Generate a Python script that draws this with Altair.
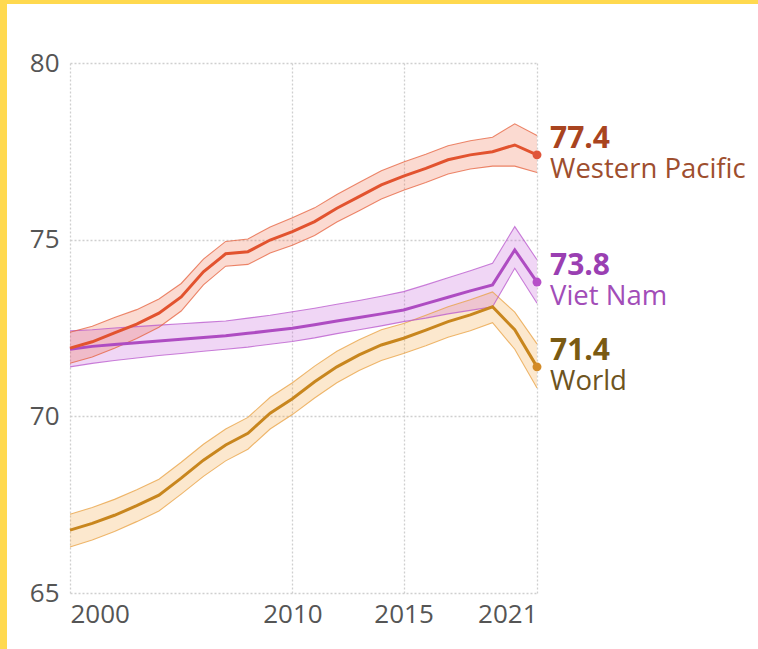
import altair as alt
import pandas as pd

years = list(range(2000, 2022))

series_names = ["World", "Viet Nam", "Western Pacific"]

wp = [71.93, 72.11, 72.36, 72.61, 72.92, 73.38, 74.09, 74.6, 74.66, 74.99, 75.23,
      75.51, 75.89, 76.22, 76.55, 76.8, 77.02, 77.26, 77.4, 77.49, 77.68, 77.4]
wp_hi = [72.38, 72.55, 72.8, 73.02, 73.32, 73.76, 74.45, 74.95, 75.02, 75.36, 75.62,
         75.9, 76.28, 76.62, 76.95, 77.2, 77.42, 77.66, 77.8, 77.9, 78.28, 77.95]
wp_lo = [71.5, 71.68, 71.93, 72.2, 72.52, 72.98, 73.72, 74.25, 74.3, 74.62, 74.84,
         75.12, 75.5, 75.82, 76.15, 76.4, 76.62, 76.86, 77.0, 77.08, 77.08, 76.9]

vn = [71.9, 71.98, 72.03, 72.08, 72.13, 72.18, 72.23, 72.28, 72.35, 72.42, 72.49,
      72.59, 72.7, 72.8, 72.9, 73.01, 73.19, 73.37, 73.55, 73.72, 74.71, 73.8]
vn_hi = [72.42, 72.45, 72.5, 72.54, 72.58, 72.62, 72.66, 72.7, 72.78, 72.86, 72.96,
         73.06, 73.17, 73.28, 73.4, 73.53, 73.72, 73.92, 74.12, 74.33, 75.37, 74.43]
vn_lo = [71.4, 71.5, 71.58, 71.65, 71.72, 71.78, 71.84, 71.9, 71.96, 72.04, 72.12,
         72.22, 72.34, 72.45, 72.56, 72.68, 72.78, 72.9, 73.0, 73.1, 74.19, 73.2]

wd = [66.78, 66.97, 67.2, 67.47, 67.77, 68.25, 68.76, 69.19, 69.52, 70.09, 70.5,
      70.98, 71.4, 71.74, 72.02, 72.21, 72.44, 72.68, 72.87, 73.1, 72.45, 71.4]
wd_hi = [67.23, 67.42, 67.65, 67.92, 68.22, 68.7, 69.21, 69.64, 69.97, 70.54, 70.95,
         71.42, 71.84, 72.17, 72.45, 72.63, 72.86, 73.1, 73.3, 73.52, 72.95, 72.05]
wd_lo = [66.3, 66.5, 66.74, 67.02, 67.32, 67.8, 68.3, 68.74, 69.07, 69.64, 70.05,
         70.52, 70.95, 71.3, 71.58, 71.78, 72.0, 72.24, 72.42, 72.65, 71.9, 70.8]

x_ticks = [2000, 2010, 2015, 2021]
y_ticks = [65, 70, 75, 80]

line_colors = ["#C8861E", "#AE4CC2", "#E2532F"]
band_colors = ["#F4A43C", "#C25AD8", "#EE6A48"]
edge_colors = ["#E8A040", "#B855CC", "#E5603C"]
dot_colors = ["#D38B28", "#B650C8", "#E0553A"]
value_colors = ["#7A5A12", "#9A3FB2", "#A9441F"]
name_colors = ["#6E5420", "#A24DB8", "#9E4E2E"]

rows = []
for k, (name, c, lo, hi) in enumerate([("World", wd, wd_lo, wd_hi),
                                       ("Viet Nam", vn, vn_lo, vn_hi),
                                       ("Western Pacific", wp, wp_lo, wp_hi)]):
    for i, y in enumerate(years):
        rows.append({"series": name, "year": y, "v": c[i], "lo": lo[i], "hi": hi[i],
                     "lcol": line_colors[k], "bcol": band_colors[k],
                     "ecol": edge_colors[k], "dcol": dot_colors[k],
                     "vcol": value_colors[k], "ncol": name_colors[k]})
df = pd.DataFrame(rows)

last = df[df["year"] == years[-1]].copy()
last["label"] = last["v"].map(lambda v: f"{v:.1f}")

W, H = 467, 530
PAD = {"left": 70, "top": 63, "right": 758 - 70 - W, "bottom": 649 - 63 - H}

xenc = alt.X("year:Q", scale=alt.Scale(domain=[2000, 2021], nice=False),
             axis=alt.Axis(values=x_ticks, format="d", labelFlush=True, title=None,
                           labelPadding=8))
yenc_axis = alt.Axis(values=y_ticks, title=None, labelPadding=11)
yscale = alt.Scale(domain=[65, 80], nice=False)

base = alt.Chart(df)

band = base.mark_area(opacity=0.25).encode(
    x=xenc, y=alt.Y("lo:Q", scale=yscale, axis=yenc_axis), y2="hi:Q",
    color=alt.Color("bcol:N", scale=None), detail="series:N")
edge_hi = base.mark_line(strokeWidth=1.1, opacity=0.75).encode(
    x="year:Q", y=alt.Y("hi:Q", scale=yscale),
    color=alt.Color("ecol:N", scale=None), detail="series:N")
edge_lo = base.mark_line(strokeWidth=1.1, opacity=0.75).encode(
    x="year:Q", y=alt.Y("lo:Q", scale=yscale),
    color=alt.Color("ecol:N", scale=None), detail="series:N")
main = base.mark_line(strokeWidth=3).encode(
    x="year:Q", y=alt.Y("v:Q", scale=yscale),
    color=alt.Color("lcol:N", scale=None), detail="series:N")

lb = alt.Chart(last)
dots = lb.mark_circle(size=80, opacity=1).encode(
    x="year:Q", y=alt.Y("v:Q", scale=yscale), color=alt.Color("dcol:N", scale=None))
vtext = lb.mark_text(align="left", baseline="alphabetic", dx=13, dy=-7,
                     font="Open Sans", fontSize=30, fontWeight="bold").encode(
    x="year:Q", y=alt.Y("v:Q", scale=yscale), text="label:N",
    color=alt.Color("vcol:N", scale=None))
ntext = lb.mark_text(align="left", baseline="alphabetic", dx=13, dy=23,
                     font="Open Sans", fontSize=27.5).encode(
    x="year:Q", y=alt.Y("v:Q", scale=yscale), text="series:N",
    color=alt.Color("ncol:N", scale=None))

frame_df = pd.DataFrame({"k": [0]})
yellow = "#FFD94F"
top_strip = alt.Chart(frame_df).mark_rect(color=yellow).encode(
    x=alt.value(-PAD["left"]), x2=alt.value(W + PAD["right"]),
    y=alt.value(-PAD["top"]), y2=alt.value(-PAD["top"] + 4))
left_strip = alt.Chart(frame_df).mark_rect(color=yellow).encode(
    x=alt.value(-PAD["left"]), x2=alt.value(-PAD["left"] + 7),
    y=alt.value(-PAD["top"]), y2=alt.value(H + PAD["bottom"]))

chart = alt.layer(band, edge_hi, edge_lo, main, dots, vtext, ntext, top_strip, left_strip).properties(
    width=W, height=H, padding=PAD, autosize=alt.AutoSizeParams(type="none"),
    background="white"
).configure_view(stroke=None).configure_axis(
    labelFont="Open Sans", labelFontSize=26, labelColor="#555555",
    grid=True, gridColor="#cfcfcf", gridDash=[2, 2], gridWidth=1.3,
    domain=False, ticks=False
)

chart.save("out.html", embed_options={"renderer": "svg", "actions": False})
